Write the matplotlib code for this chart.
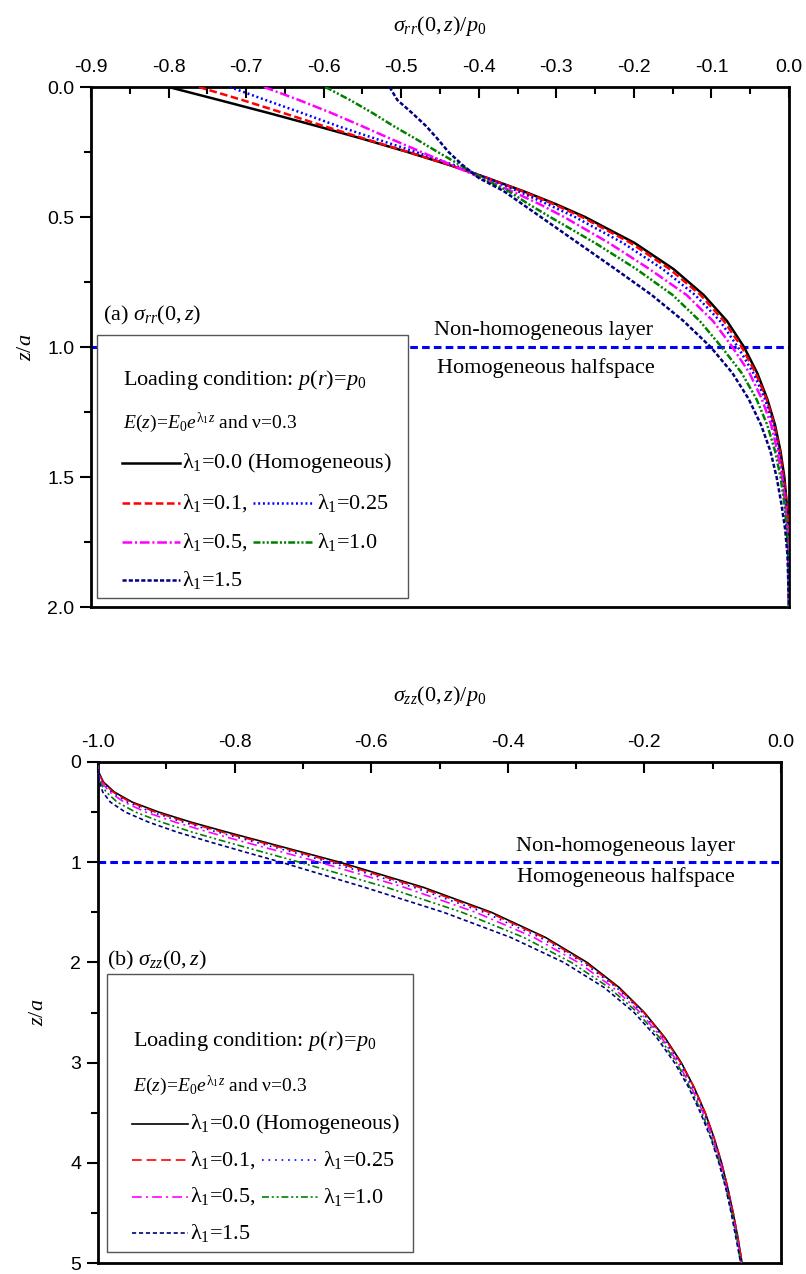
import matplotlib
matplotlib.use('Agg')
import matplotlib.pyplot as plt
from matplotlib.lines import Line2D
from matplotlib.patches import Rectangle
from matplotlib.ticker import MultipleLocator, FormatStrFormatter

plt.rcParams['font.family'] = ['Liberation Serif', 'DejaVu Serif']
plt.rcParams['mathtext.fontset'] = 'custom'
plt.rcParams['mathtext.rm'] = 'Liberation Serif'
plt.rcParams['mathtext.it'] = 'Liberation Serif:italic'
plt.rcParams['mathtext.bf'] = 'Liberation Serif:bold'
plt.rcParams['lines.scale_dashes'] = False

# ---- (a) radial stress along the axis, sigma_rr(0,z)/p0 ----
z_rr = [0.0, 0.05, 0.1, 0.15, 0.2, 0.25, 0.3, 0.35, 0.4, 0.45, 0.5, 0.6, 0.7,
        0.8, 0.9, 1.0, 1.1, 1.2, 1.3, 1.4, 1.5, 1.6, 1.7, 1.8, 1.9, 2.0]
srr_00 = [-0.800, -0.735, -0.671, -0.609, -0.549, -0.492, -0.438, -0.389, -0.343,
          -0.301, -0.263, -0.199, -0.149, -0.110, -0.080, -0.058, -0.041, -0.028,
          -0.018, -0.011, -0.006, -0.003, -0.001, 0.0, 0.0, 0.0]
srr_01 = [-0.761, -0.705, -0.652, -0.600, -0.546, -0.491, -0.437, -0.389, -0.345,
          -0.304, -0.267, -0.204, -0.154, -0.114, -0.084, -0.061, -0.043, -0.029,
          -0.019, -0.012, -0.007, -0.003, -0.001, 0.0, 0.0, 0.0]
srr_025 = [-0.721, -0.675, -0.628, -0.582, -0.532, -0.481, -0.432, -0.390, -0.350,
           -0.312, -0.276, -0.214, -0.163, -0.121, -0.089, -0.066, -0.046, -0.031,
           -0.020, -0.013, -0.008, -0.004, -0.002, -0.001, 0.0, 0.0]
srr_05 = [-0.677, -0.632, -0.590, -0.551, -0.513, -0.474, -0.435, -0.397, -0.358,
          -0.322, -0.290, -0.232, -0.180, -0.132, -0.098, -0.073, -0.051, -0.035,
          -0.023, -0.015, -0.009, -0.005, -0.002, -0.001, 0.0, 0.0]
srr_10 = [-0.598, -0.566, -0.537, -0.510, -0.481, -0.453, -0.424, -0.396, -0.362,
          -0.336, -0.308, -0.250, -0.197, -0.150, -0.115, -0.087, -0.061, -0.042,
          -0.028, -0.018, -0.011, -0.006, -0.003, -0.001, 0.0, 0.0]
srr_15 = [-0.515, -0.505, -0.486, -0.468, -0.453, -0.439, -0.421, -0.400, -0.368,
          -0.344, -0.320, -0.272, -0.224, -0.177, -0.136, -0.101, -0.073, -0.052,
          -0.036, -0.024, -0.016, -0.010, -0.005, -0.002, -0.001, 0.0]

# ---- (b) vertical stress along the axis, sigma_zz(0,z)/p0 ----
z_zz = [0.0, 0.1, 0.2, 0.3, 0.4, 0.5, 0.6, 0.7, 0.8, 0.9, 1.0, 1.25, 1.5, 1.75,
        2.0, 2.25, 2.5, 2.75, 3.0, 3.25, 3.5, 3.75, 4.0, 4.25, 4.5, 4.75, 5.0]
szz_00 = [-1.000, -0.999, -0.992, -0.976, -0.950, -0.911, -0.864, -0.811, -0.756,
          -0.701, -0.646, -0.524, -0.424, -0.345, -0.284, -0.237, -0.200, -0.170,
          -0.146, -0.127, -0.111, -0.098, -0.087, -0.078, -0.070, -0.063, -0.057]
szz_01 = [-1.000, -0.999, -0.993, -0.978, -0.953, -0.916, -0.870, -0.818, -0.762,
          -0.707, -0.653, -0.530, -0.428, -0.348, -0.287, -0.239, -0.201, -0.171,
          -0.147, -0.127, -0.111, -0.098, -0.087, -0.078, -0.070, -0.063, -0.057]
szz_025 = [-1.000, -0.999, -0.994, -0.980, -0.957, -0.921, -0.876, -0.825, -0.770,
           -0.715, -0.661, -0.538, -0.435, -0.353, -0.290, -0.241, -0.203, -0.173,
           -0.149, -0.129, -0.113, -0.099, -0.088, -0.079, -0.071, -0.064, -0.058]
szz_05 = [-1.000, -1.000, -0.995, -0.983, -0.962, -0.930, -0.887, -0.838, -0.785,
          -0.730, -0.676, -0.552, -0.447, -0.362, -0.297, -0.246, -0.206, -0.175,
          -0.151, -0.131, -0.114, -0.100, -0.089, -0.080, -0.072, -0.064, -0.058]
szz_10 = [-1.000, -1.000, -0.997, -0.988, -0.972, -0.945, -0.907, -0.862, -0.811,
          -0.758, -0.705, -0.578, -0.467, -0.377, -0.307, -0.252, -0.210, -0.178,
          -0.153, -0.133, -0.116, -0.102, -0.090, -0.081, -0.072, -0.065, -0.059]
szz_15 = [-1.000, -1.000, -0.998, -0.993, -0.982, -0.960, -0.926, -0.884, -0.835,
          -0.784, -0.732, -0.610, -0.494, -0.396, -0.318, -0.259, -0.215, -0.182,
          -0.156, -0.135, -0.118, -0.103, -0.091, -0.081, -0.073, -0.066, -0.059]

lam_labels = ['0.0', '0.1', '0.25', '0.5', '1.0', '1.5']
colors = ['black', '#ff0000', '#0000ff', '#ff00ff', '#008000', '#000080']
dashes_a = [None, (5.5, 2.5), (1.4, 2.0), (7, 2, 1.5, 2), (5, 1.5, 1.5, 1.5, 1.5, 1.5), (3, 1.5)]
dashes_b = [None, (7, 3.5), (1.2, 3.5), (7, 3, 1.5, 3), (5, 2, 1.5, 2, 1.5, 2), (3, 2)]

fig = plt.figure(figsize=(8.06, 12.74), dpi=100)
ax1 = fig.add_axes([91 / 806, 1 - 607 / 1274, 698 / 806, 520 / 1274])
ax2 = fig.add_axes([98 / 806, 1 - 1263 / 1274, 683 / 806, 501 / 1274])


def style_axes(ax, xmaj, ymaj, yfmt):
    ax.xaxis.tick_top()
    ax.xaxis.set_label_position('top')
    ax.xaxis.set_major_locator(MultipleLocator(xmaj))
    ax.xaxis.set_minor_locator(MultipleLocator(xmaj / 2))
    ax.yaxis.set_major_locator(MultipleLocator(ymaj))
    ax.yaxis.set_minor_locator(MultipleLocator(ymaj / 2))
    ax.xaxis.set_major_formatter(FormatStrFormatter('%.1f'))
    ax.yaxis.set_major_formatter(FormatStrFormatter(yfmt))
    ax.tick_params(axis='x', which='both', direction='in', top=True, bottom=False, pad=8)
    ax.tick_params(axis='y', which='both', direction='out', left=True, right=False, pad=4)
    ax.tick_params(which='major', length=8, width=1.5)
    ax.tick_params(which='minor', length=5, width=1.5)
    ax.tick_params(labelsize=14, labelfontfamily='Liberation Sans')
    for sp in ax.spines.values():
        sp.set_linewidth(2)


def draw_key(ax, box, rows, xt, h1, t1, h2, t2, lw, dashes):
    ax.add_patch(Rectangle((box[0], box[1]), box[2] - box[0], box[3] - box[1],
                           transform=ax.transAxes, facecolor='white',
                           edgecolor='#555555', lw=1, zorder=5))
    ax.text(xt, rows[0], r'Loading condition: $p(r)\!=\!p_0$', transform=ax.transAxes,
            fontsize=16, va='center', zorder=6)
    ax.text(xt, rows[1], r'$E(z)\!=\!E_0e^{\mathrm{\lambda}_1z}$ and ν=0.3',
            transform=ax.transAxes, fontsize=14, va='center', zorder=6)
    slots = [(rows[2], 0), (rows[3], 0), (rows[3], 1), (rows[4], 0), (rows[4], 1), (rows[5], 0)]
    for i, (y, col) in enumerate(slots):
        hx, tx = (h1, t1) if col == 0 else (h2, t2)
        ls = '-' if dashes[i] is None else (0, dashes[i])
        ax.add_line(Line2D(hx, [y, y], transform=ax.transAxes, color=colors[i],
                           lw=lw, linestyle=ls, zorder=6))
        txt = r'$\mathrm{\lambda}_1$=' + lam_labels[i]
        if i == 0:
            txt += ' (Homogeneous)'
        elif col == 0 and i < 5:
            txt += ','
        ax.text(tx, y, txt, transform=ax.transAxes, fontsize=16, va='center', zorder=6)


# panel (a)
srr = [srr_00, srr_01, srr_025, srr_05, srr_10, srr_15]
for i, s in enumerate(srr):
    ls = '-' if dashes_a[i] is None else (0, dashes_a[i])
    ax1.plot(s, z_rr, color=colors[i], lw=1.8, linestyle=ls, zorder=3)
ax1.axhline(1.0, color='#0000ff', lw=2.2, linestyle=(0, (5.5, 3)), zorder=2)
ax1.set_xlim(-0.9, 0.0)
ax1.set_ylim(2.0, 0.0)
style_axes(ax1, 0.1, 0.5, '%.1f')
ax1.set_xlabel(r'$\sigma_{rr}(0,z)/p_0$', fontsize=16, labelpad=20)
ax1.set_ylabel(r'$z/a$', fontsize=16, labelpad=8)
ax1.text(0.017, 0.5615, r'(a) $\sigma_{rr}(0,z)$', transform=ax1.transAxes,
         fontsize=16, va='center')
ax1.text(-0.317, 0.935, 'Non-homogeneous layer', fontsize=16, ha='center', va='center')
ax1.text(-0.314, 1.08, 'Homogeneous halfspace', fontsize=16, ha='center', va='center')
draw_key(ax1, (0.0086, 0.017, 0.454, 0.523),
         [0.4365, 0.354, 0.277, 0.200, 0.125, 0.052], 0.046,
         [0.0444, 0.1275], 0.130, [0.232, 0.3166], 0.324, 1.8, dashes_a)

# panel (b)
szz = [szz_00, szz_01, szz_025, szz_05, szz_10, szz_15]
for i, s in enumerate(szz):
    ls = '-' if dashes_b[i] is None else (0, dashes_b[i])
    ax2.plot(s, z_zz, color=colors[i], lw=1.2, linestyle=ls, zorder=3)
ax2.axhline(1.0, color='#0000ff', lw=2.2, linestyle=(0, (5.5, 3)), zorder=2)
ax2.set_xlim(-1.0, 0.0)
ax2.set_ylim(5.0, 0.0)
style_axes(ax2, 0.2, 1.0, '%d')
ax2.set_xlabel(r'$\sigma_{zz}(0,z)/p_0$', fontsize=16, labelpad=24)
ax2.set_ylabel(r'$z/a$', fontsize=16, labelpad=16)
ax2.text(0.013, 0.604, r'(b) $\sigma_{zz}(0,z)$', transform=ax2.transAxes,
         fontsize=16, va='center')
ax2.text(-0.227, 0.84, 'Non-homogeneous layer', fontsize=16, ha='center', va='center')
ax2.text(-0.227, 1.15, 'Homogeneous halfspace', fontsize=16, ha='center', va='center')
draw_key(ax2, (0.013, 0.022, 0.461, 0.576),
         [0.4436, 0.3545, 0.277, 0.206, 0.1327, 0.0594], 0.0512,
         [0.0498, 0.1318], 0.1347, [0.240, 0.322], 0.3294, 1.2, dashes_b)

fig.savefig('out.png', dpi=100)
